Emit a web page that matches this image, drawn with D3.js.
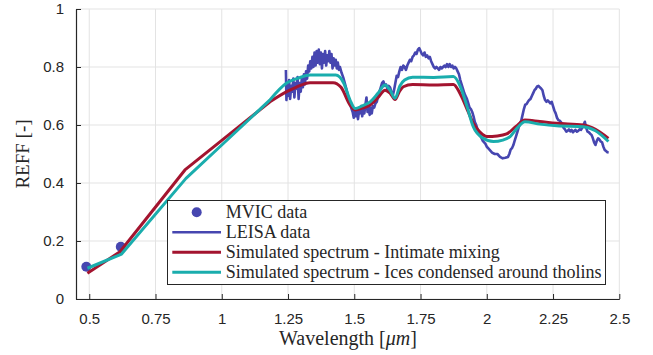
<!DOCTYPE html>
<html lang="en">

<head>
  <meta charset="UTF-8">
  <title>REFF spectrum</title>
  <script src="https://d3js.org/d3.v7.min.js"></script>
  <style>
    html,
    body {
      padding: 0;
      margin: 0;
      background: #fff;
    }

    .axis text {
      font-family: "Liberation Sans", Arial, sans-serif;
      font-size: 15px;
      fill: #262626;
    }

    .axis path,
    .axis line {
      stroke: #262626;
    }

    .serif {
      font-family: "Liberation Serif", "Times New Roman", serif;
      fill: #262626;
    }
  </style>
</head>

<body>
  <script>
    const width = 653;
    const height = 355;

    // MVIC photometry
    const mvicWl = [0.489, 0.619];
    const mvicR = [0.111, 0.180];

    // LEISA spectrum
    const leisaWl = [
      1.242, 1.244, 1.247, 1.250, 1.254, 1.258, 1.262, 1.266, 1.270, 1.274, 1.278, 1.282, 1.286, 1.290, 1.294, 1.298,
      1.302, 1.306, 1.310, 1.314, 1.318, 1.322, 1.326, 1.330, 1.334, 1.338, 1.342, 1.346, 1.350, 1.354, 1.358, 1.362,
      1.366, 1.370, 1.374, 1.378, 1.382, 1.386, 1.390, 1.394, 1.398, 1.402, 1.406, 1.410, 1.414, 1.418, 1.422, 1.426,
      1.430, 1.434, 1.438, 1.442, 1.446, 1.452, 1.458, 1.464, 1.470, 1.476, 1.482, 1.488, 1.494, 1.498, 1.502, 1.506,
      1.510, 1.514, 1.518, 1.522, 1.526, 1.530, 1.534, 1.538, 1.542, 1.546, 1.550, 1.554, 1.558, 1.562, 1.566, 1.570,
      1.575, 1.580, 1.585, 1.590, 1.595, 1.600, 1.605, 1.610, 1.615, 1.620, 1.625, 1.630, 1.635, 1.640, 1.645, 1.650,
      1.655, 1.660, 1.665, 1.670, 1.675, 1.680, 1.685, 1.690, 1.695, 1.700, 1.705, 1.710, 1.715, 1.720, 1.725, 1.730,
      1.735, 1.740, 1.745, 1.750, 1.755, 1.760, 1.765, 1.770, 1.775, 1.780, 1.785, 1.790, 1.795, 1.800, 1.805, 1.810,
      1.815, 1.820, 1.825, 1.830, 1.835, 1.840, 1.845, 1.850, 1.855, 1.860, 1.865, 1.870, 1.875, 1.880, 1.885, 1.890,
      1.895, 1.900, 1.905, 1.910, 1.915, 1.920, 1.925, 1.930, 1.935, 1.940, 1.945, 1.950, 1.955, 1.960, 1.965, 1.970,
      1.975, 1.980, 1.985, 1.990, 1.995, 2.000, 2.005, 2.010, 2.015, 2.020, 2.030, 2.040, 2.050, 2.060, 2.070, 2.080,
      2.085, 2.090, 2.095, 2.100, 2.105, 2.110, 2.115, 2.120, 2.125, 2.130, 2.135, 2.140, 2.145, 2.150, 2.155, 2.160,
      2.165, 2.170, 2.175, 2.180, 2.185, 2.190, 2.195, 2.200, 2.205, 2.210, 2.215, 2.220, 2.225, 2.230, 2.235, 2.240,
      2.245, 2.250, 2.255, 2.260, 2.265, 2.270, 2.275, 2.280, 2.285, 2.290, 2.295, 2.300, 2.305, 2.310, 2.315, 2.320,
      2.325, 2.330, 2.335, 2.340, 2.345, 2.350, 2.355, 2.360, 2.365, 2.370, 2.375, 2.380, 2.385, 2.390, 2.395, 2.400,
      2.405, 2.410, 2.415, 2.420, 2.425, 2.430, 2.435, 2.440, 2.445, 2.450, 2.455, 2.460
    ];
    const leisaR = [
      0.790, 0.686, 0.740, 0.700, 0.755, 0.690, 0.735, 0.715, 0.760, 0.695, 0.745, 0.725, 0.765, 0.690, 0.745, 0.715,
      0.760, 0.730, 0.775, 0.740, 0.785, 0.760, 0.805, 0.785, 0.820, 0.795, 0.835, 0.800, 0.850, 0.805, 0.855, 0.815,
      0.860, 0.810, 0.850, 0.795, 0.845, 0.815, 0.855, 0.805, 0.840, 0.820, 0.855, 0.815, 0.845, 0.795, 0.830, 0.805,
      0.825, 0.795, 0.815, 0.790, 0.800, 0.780, 0.765, 0.745, 0.725, 0.700, 0.685, 0.660, 0.645, 0.625, 0.650, 0.630,
      0.655, 0.620, 0.650, 0.640, 0.665, 0.630, 0.660, 0.640, 0.670, 0.695, 0.645, 0.665, 0.635, 0.660, 0.640, 0.665,
      0.660, 0.675, 0.680, 0.700, 0.715, 0.730, 0.745, 0.750, 0.735, 0.740, 0.725, 0.735, 0.730, 0.715, 0.700, 0.720,
      0.745, 0.770, 0.765, 0.785, 0.800, 0.790, 0.805, 0.800, 0.790, 0.805, 0.815, 0.825, 0.820, 0.835, 0.840, 0.850,
      0.845, 0.860, 0.865, 0.855, 0.845, 0.840, 0.850, 0.835, 0.840, 0.830, 0.835, 0.820, 0.810, 0.800, 0.795, 0.800,
      0.795, 0.790, 0.800, 0.795, 0.800, 0.805, 0.800, 0.810, 0.800, 0.810, 0.800, 0.805, 0.795, 0.800, 0.795, 0.785,
      0.775, 0.755, 0.740, 0.725, 0.710, 0.700, 0.690, 0.675, 0.660, 0.655, 0.645, 0.630, 0.610, 0.600, 0.585, 0.575,
      0.565, 0.555, 0.545, 0.540, 0.535, 0.525, 0.520, 0.515, 0.510, 0.505, 0.500, 0.500, 0.490, 0.485, 0.487, 0.490,
      0.500, 0.515, 0.520, 0.530, 0.545, 0.560, 0.575, 0.590, 0.605, 0.615, 0.635, 0.655, 0.670, 0.672, 0.680, 0.686,
      0.690, 0.700, 0.710, 0.720, 0.725, 0.733, 0.735, 0.730, 0.726, 0.720, 0.700, 0.686, 0.680, 0.685, 0.680, 0.675,
      0.680, 0.665, 0.650, 0.640, 0.625, 0.617, 0.615, 0.610, 0.600, 0.590, 0.585, 0.577, 0.580, 0.585, 0.578, 0.583,
      0.575, 0.580, 0.583, 0.577, 0.580, 0.585, 0.583, 0.590, 0.600, 0.611, 0.590, 0.577, 0.575, 0.570, 0.566, 0.555,
      0.540, 0.531, 0.545, 0.554, 0.550, 0.543, 0.540, 0.525, 0.514, 0.510, 0.506, 0.505
    ];

    // Simulated spectrum - intimate mixing
    const mixWl = [0.493, 0.616, 0.861, 1.0, 1.182, 1.245, 1.28, 1.333, 1.42, 1.45, 1.484, 1.503, 1.53, 1.56, 1.59,
      1.616, 1.635, 1.654, 1.67, 1.685, 1.72, 1.8, 1.874, 1.899, 1.93, 1.949, 1.975, 2.0, 2.04, 2.075, 2.11, 2.144,
      2.2, 2.264, 2.364, 2.41, 2.459];
    const mixR = [0.089, 0.163, 0.445, 0.547, 0.680, 0.715, 0.730, 0.746, 0.746, 0.730, 0.669, 0.652, 0.658, 0.669, 0.695,
      0.720, 0.710, 0.688, 0.715, 0.732, 0.740, 0.738, 0.740, 0.709, 0.645, 0.606, 0.575, 0.560, 0.562, 0.569, 0.595, 0.617,
      0.612, 0.606, 0.600, 0.585, 0.554];

    // Simulated spectrum - ices condensed around tholins
    const iceWl = [0.493, 0.622, 0.865, 1.0, 1.18, 1.245, 1.29, 1.333, 1.43, 1.46, 1.484, 1.503, 1.53, 1.56, 1.59,
      1.616, 1.635, 1.654, 1.672, 1.69, 1.72, 1.8, 1.874, 1.899, 1.925, 1.949, 1.985, 2.025, 2.06, 2.088, 2.115, 2.144,
      2.2, 2.264, 2.364, 2.41, 2.459];
    const iceR = [0.106, 0.155, 0.416, 0.531, 0.685, 0.745, 0.762, 0.772, 0.772, 0.745, 0.686, 0.657, 0.666, 0.680, 0.710,
      0.738, 0.720, 0.692, 0.735, 0.755, 0.765, 0.764, 0.767, 0.735, 0.665, 0.594, 0.555, 0.543, 0.548, 0.560, 0.590, 0.611,
      0.603, 0.597, 0.594, 0.580, 0.543];

    const xTicks = [0.5, 0.75, 1, 1.25, 1.5, 1.75, 2, 2.25, 2.5];
    const yTicks = [0, 0.2, 0.4, 0.6, 0.8, 1];

    const blue = '#4646b0';
    const red = '#a3142f';
    const teal = '#1aadad';

    const x = d3.scaleLinear().domain([0.45, 2.5]).range([76, 619.3]);
    const y = d3.scaleLinear().domain([0, 1]).range([299, 9]);

    const svg = d3.select('body').append('svg')
      .attr('width', width)
      .attr('height', height);

    // grid
    const grid = svg.append('g').attr('stroke', '#e3e3e3').attr('stroke-width', 1);
    grid.selectAll('.gx').data(xTicks).join('line')
      .attr('x1', d => x(d)).attr('x2', d => x(d))
      .attr('y1', y(0)).attr('y2', y(1));
    grid.selectAll('.gy').data(yTicks).join('line')
      .attr('x1', x(0.45)).attr('x2', x(2.5))
      .attr('y1', d => y(d)).attr('y2', d => y(d));

    const zip = (a, b) => a.map((v, i) => [v, b[i]]);
    const line = d3.line().x(d => x(d[0])).y(d => y(d[1]));
    const smooth = d3.line().x(d => x(d[0])).y(d => y(d[1])).curve(d3.curveMonotoneX);

    // visible part is straight up to ~1.18 um, smooth afterwards
    function simPath(wl, r) {
      const pts = zip(wl, r);
      const straight = line(pts.slice(0, 5));
      const curved = smooth(pts.slice(4));
      return straight + curved.replace(/^M/, 'L');
    }

    svg.selectAll('.mvic').data(zip(mvicWl, mvicR)).join('circle')
      .attr('cx', d => x(d[0])).attr('cy', d => y(d[1]))
      .attr('r', 5).attr('fill', blue);

    svg.append('path')
      .attr('fill', 'none').attr('stroke', blue).attr('stroke-width', 2.6)
      .attr('stroke-linejoin', 'round')
      .attr('d', line(zip(leisaWl, leisaR)));

    svg.append('path')
      .attr('fill', 'none').attr('stroke', red).attr('stroke-width', 3)
      .attr('stroke-linejoin', 'round')
      .attr('d', simPath(mixWl, mixR));

    svg.append('path')
      .attr('fill', 'none').attr('stroke', teal).attr('stroke-width', 3)
      .attr('stroke-linejoin', 'round')
      .attr('d', simPath(iceWl, iceR));

    // axes
    svg.append('g').attr('class', 'axis')
      .attr('transform', `translate(0,${y(0)})`)
      .call(d3.axisBottom(x).tickValues(xTicks).tickFormat(d3.format('')).tickSize(-5).tickSizeOuter(0).tickPadding(14));

    svg.append('g').attr('class', 'axis')
      .attr('transform', `translate(${x(0.45)},0)`)
      .call(d3.axisLeft(y).tickValues(yTicks).tickFormat(d3.format('')).tickSize(-5).tickSizeOuter(0).tickPadding(12));

    svg.selectAll('.axis .domain').attr('stroke-width', 1.2);

    // axis labels
    svg.append('text').attr('class', 'serif')
      .attr('transform', `translate(29,154) rotate(-90)`)
      .attr('text-anchor', 'middle')
      .style('font-size', '19px')
      .text('REFF [-]');

    const xl = svg.append('text').attr('class', 'serif')
      .attr('x', 348).attr('y', 345)
      .attr('text-anchor', 'middle')
      .style('font-size', '20px');
    xl.append('tspan').text('Wavelength [');
    xl.append('tspan').style('font-style', 'italic').text('μm');
    xl.append('tspan').text(']');

    // legend
    const lg = svg.append('g');
    lg.append('rect')
      .attr('x', 167.5).attr('y', 200.5).attr('width', 438).attr('height', 84)
      .attr('fill', '#fff').attr('stroke', '#262626').attr('stroke-width', 1);

    const legendItems = [
      { label: 'MVIC data', color: blue, type: 'dot' },
      { label: 'LEISA data', color: blue, type: 'line', w: 2.6 },
      { label: 'Simulated spectrum - Intimate mixing', color: red, type: 'line', w: 3 },
      { label: 'Simulated spectrum - Ices condensed around tholins', color: teal, type: 'line', w: 3 }
    ];

    legendItems.forEach((it, i) => {
      const cy = 212.3 + i * 20;
      if (it.type === 'dot') {
        lg.append('circle').attr('cx', 196.7).attr('cy', cy).attr('r', 5).attr('fill', it.color);
      } else {
        lg.append('line').attr('x1', 172.3).attr('x2', 221).attr('y1', cy).attr('y2', cy)
          .attr('stroke', it.color).attr('stroke-width', it.w);
      }
      lg.append('text').attr('class', 'serif')
        .attr('x', 225.7).attr('y', cy + 5.5)
        .style('font-size', '18px')
        .text(it.label);
    });
  </script>
</body>

</html>
